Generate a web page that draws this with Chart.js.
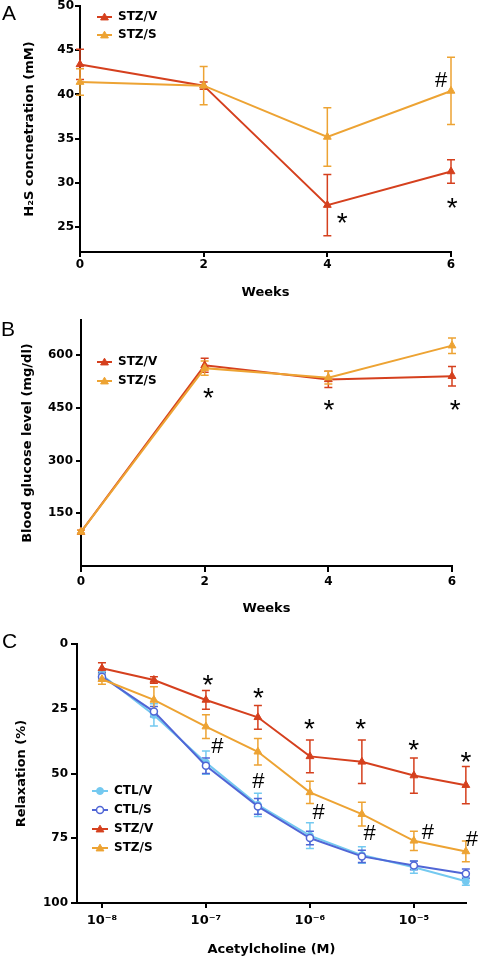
<!DOCTYPE html>
<html><head><meta charset="utf-8">
<script src="https://cdn.jsdelivr.net/npm/chart.js@4.4.0/dist/chart.umd.min.js"></script>
<style>
html,body{margin:0;padding:0;background:#fff;}
body{width:479px;height:958px;position:relative;overflow:hidden;}
canvas{position:absolute;left:0;}
</style></head><body>
<canvas id="cA" width="479" height="310" style="top:0px"></canvas>
<canvas id="cB" width="479" height="320" style="top:310px"></canvas>
<canvas id="cC" width="479" height="328" style="top:630px"></canvas>
<script>
// ---------- DATA ----------
const weeks = [0, 2, 4, 6];
const weekTicks = [0, 2, 4, 6];

// Panel A: H2S concentration (mM)
const h2sTicks = [25, 30, 35, 40, 45, 50];
const h2sStzV = [43.4, 41.0, 27.5, 31.3];
const h2sStzVErr = [1.7, 0.4, 3.45, 1.33];
const h2sStzS = [41.4, 41.0, 35.2, 40.4];
const h2sStzSErr = [1.5, 2.15, 3.3, 3.8];

// Panel B: blood glucose (mg/dl)
const glucTicks = [150, 300, 450, 600];
const glucStzV = [97, 571, 531, 540];
const glucStzVErr = [5, 20, 23, 28];
const glucStzS = [97, 563, 536, 627];
const glucStzSErr = [5, 20, 18, 22];

// Panel C: relaxation (%) vs acetylcholine (M)
const achConc = [1e-8, 3.16e-8, 1e-7, 3.16e-7, 1e-6, 3.16e-6, 1e-5, 3.16e-5];
const achTickValues = [1e-8, 1e-7, 1e-6, 1e-5];
const achTickLabels = ['10\u207B\u2078', '10\u207B\u2077', '10\u207B\u2076', '10\u207B\u2075'];
const relaxTicks = [0, 25, 50, 75, 100];
const ctlV = [12.0, 27.4, 45.8, 62.1, 74.0, 81.5, 86.2, 91.6];
const ctlVErr = [1.5, 4.3, 4.5, 4.5, 5.0, 3.2, 2.3, 1.5];
const ctlS = [12.6, 26.1, 47.0, 62.7, 74.9, 82.0, 85.5, 88.7];
const ctlSErr = [1.5, 2.0, 3.0, 3.0, 2.6, 2.4, 1.7, 1.8];
const stzV = [9.4, 13.9, 21.6, 28.3, 43.4, 45.5, 50.8, 54.5];
const stzVErr = [2.2, 1.3, 3.6, 4.6, 6.3, 8.4, 6.8, 7.2];
const stzS = [13.6, 21.6, 31.9, 41.6, 57.3, 65.7, 76.0, 80.1];
const stzSErr = [1.9, 5.1, 4.6, 5.1, 4.3, 4.6, 3.7, 4.0];

// Significance marks (data coordinates)
const marksA = [{x: 4.24, y: 26.0, t: '*'}, {x: 6.02, y: 27.7, t: '*'}, {x: 5.84, y: 41.7, t: '#'}];
const marksB = [{x: 2.06, y: 492, t: '*'}, {x: 4.01, y: 458, t: '*'}, {x: 6.05, y: 458, t: '*'}];
const starLogC = [-6.98, -6.496, -6.004, -5.512, -5.001, -4.5];
const starYC = [13.9, 18.9, 30.9, 30.9, 39.0, 43.6];
const hashLogC = [-6.891, -6.496, -5.917, -5.425, -4.866, -4.442];
const hashYC = [39.0, 52.8, 64.8, 72.9, 72.5, 75.2];

// ---------- STYLE ----------
const RED = '#d5401e', ORANGE = '#eda333', LBLUE = '#74c9f0', BLUE = '#5066d6';
Chart.defaults.font.family = '"DejaVu Sans", sans-serif';
Chart.defaults.font.size = 12;
Chart.defaults.font.weight = 'bold';
Chart.defaults.color = '#000';

function pts(xs, ys) { return xs.map((x, i) => ({x: x, y: ys[i]})); }

function drawMarker(ctx, ds, x, y) {
  const r = ds.pointRadius;
  ctx.save();
  ctx.lineWidth = ds.pointBorderWidth || 1;
  ctx.strokeStyle = ds.pointBorderColor || ds.borderColor;
  ctx.fillStyle = ds.pointBackgroundColor || ds.borderColor;
  ctx.beginPath();
  if (ds.pointStyle === 'triangle') {
    for (let k = 0; k < 3; k++) {
      const a = -Math.PI / 2 + k * 2 * Math.PI / 3;
      const px = x + Math.cos(a) * r, py = y + Math.sin(a) * r + r * 0.15;
      if (k === 0) ctx.moveTo(px, py); else ctx.lineTo(px, py);
    }
    ctx.closePath();
  } else {
    ctx.arc(x, y, r, 0, Math.PI * 2);
  }
  ctx.fill(); ctx.stroke();
  ctx.restore();
}

function errorBarsPlugin() {
  return {
    id: 'errBars',
    beforeDatasetsDraw(chart) {
      const ctx = chart.ctx, xs = chart.scales.x, ys = chart.scales.y;
      const metas = chart.getSortedVisibleDatasetMetas().slice().reverse();
      ctx.save();
      metas.forEach(meta => {
        const ds = chart.data.datasets[meta.index];
        if (!ds.errors) return;
        ctx.strokeStyle = ds.borderColor;
        ctx.lineWidth = 1.5;
        ds.data.forEach((p, j) => {
          const e = ds.errors[j];
          const x = xs.getPixelForValue(p.x);
          const y1 = ys.getPixelForValue(p.y + e), y2 = ys.getPixelForValue(p.y - e);
          ctx.beginPath();
          ctx.moveTo(x, y1); ctx.lineTo(x, y2);
          ctx.moveTo(x - 4, y1); ctx.lineTo(x + 4, y1);
          ctx.moveTo(x - 4, y2); ctx.lineTo(x + 4, y2);
          ctx.stroke();
        });
      });
      ctx.restore();
    }
  };
}

function marksPlugin(items) {
  return {
    id: 'sigMarks',
    afterDatasetsDraw(chart) {
      const ctx = chart.ctx, xs = chart.scales.x, ys = chart.scales.y;
      ctx.save();
      ctx.fillStyle = '#000';
      ctx.textAlign = 'center';
      ctx.textBaseline = 'alphabetic';
      items.forEach(m => {
        ctx.font = m.t === '*' ? 'normal 28px "Liberation Sans"' : 'normal 22px "Liberation Sans"';
        const mt = ctx.measureText(m.t);
        const x = xs.getPixelForValue(m.x), y = ys.getPixelForValue(m.y);
        ctx.fillText(m.t, x, y + (mt.actualBoundingBoxAscent - mt.actualBoundingBoxDescent) / 2);
      });
      ctx.restore();
    }
  };
}

function legendPlugin(cfg) {
  return {
    id: 'miniLegend',
    afterDraw(chart) {
      const ctx = chart.ctx;
      ctx.save();
      cfg.rows.forEach((di, k) => {
        const ds = chart.data.datasets[di];
        const y = cfg.ys[k];
        ctx.strokeStyle = ds.borderColor; ctx.lineWidth = 2;
        ctx.beginPath(); ctx.moveTo(cfg.x0, y); ctx.lineTo(cfg.x1, y); ctx.stroke();
        drawMarker(ctx, ds, (cfg.x0 + cfg.x1) / 2, y);
        ctx.fillStyle = '#000';
        ctx.font = 'bold 12px "DejaVu Sans"';
        ctx.textAlign = 'left'; ctx.textBaseline = 'middle';
        ctx.fillText(ds.label, cfg.tx, y);
      });
      ctx.restore();
    }
  };
}

function letterPlugin(t, x, y) {
  return {
    id: 'panelLetter',
    afterDraw(chart) {
      const ctx = chart.ctx;
      ctx.save();
      ctx.fillStyle = '#000';
      ctx.font = 'normal 21px "Liberation Sans"';
      ctx.textAlign = 'left'; ctx.textBaseline = 'alphabetic';
      ctx.fillText(t, x, y);
      ctx.restore();
    }
  };
}

function axis(o) {
  return {
    type: o.type || 'linear', position: o.pos, min: o.min, max: o.max, reverse: !!o.reverse,
    border: {display: true, color: '#000', width: 2},
    grid: {display: true, drawOnChartArea: false, drawTicks: true, tickLength: o.tl, color: '#000', lineWidth: 2},
    ticks: {color: '#000', padding: o.pad, autoSkip: false, maxRotation: 0, minRotation: 0,
      font: {size: o.fs || 12, weight: 'bold'},
      callback: function (v) {
        if (o.labels) { const i = o.ticks.findIndex(t => Math.abs(Math.log10(t) - Math.log10(v)) < 1e-6); return i >= 0 ? o.labels[i] : ''; }
        return String(v);
      }},
    title: {display: true, text: o.title, color: '#000', font: {size: 13, weight: 'bold'}, padding: o.tpad},
    afterBuildTicks: s => { s.ticks = o.ticks.map(v => ({value: v})); },
    afterFit: s => {
      if (o.pos === 'left') s.width = o.size; else s.height = o.size;
      s.paddingLeft = 0; s.paddingRight = 0; s.paddingTop = 0; s.paddingBottom = 0;
    }
  };
}

function ds(label, xs, ys, errs, color, style, order, extra) {
  return Object.assign({
    label: label, data: pts(xs, ys), errors: errs,
    borderColor: color, backgroundColor: color, borderWidth: 2,
    pointStyle: style, pointRadius: 4.5, pointBorderWidth: 1,
    pointBackgroundColor: color, pointBorderColor: color,
    clip: false, order: order, tension: 0
  }, extra || {});
}

function make(id, datasets, xAx, yAx, pad, plugins) {
  return new Chart(document.getElementById(id), {
    type: 'line',
    data: {datasets: datasets},
    options: {
      responsive: false, animation: false, devicePixelRatio: 1, events: [],
      layout: {padding: pad},
      plugins: {legend: {display: false}, tooltip: {enabled: false}},
      scales: {x: xAx, y: yAx}
    },
    plugins: plugins
  });
}

// ---------- PANEL A ----------
make('cA',
  [ds('STZ/V', weeks, h2sStzV, h2sStzVErr, RED, 'triangle', 1),
   ds('STZ/S', weeks, h2sStzS, h2sStzSErr, ORANGE, 'triangle', 0)],
  axis({pos: 'bottom', min: 0, max: 6, ticks: weekTicks, tl: 5, pad: 1, title: 'Weeks', tpad: {top: 0, bottom: 10}, size: 58}),
  axis({pos: 'left', min: 22.2, max: 50, ticks: h2sTicks, tl: 5, pad: 1, title: 'H\u2082S concnetration (mM)', tpad: {top: 22, bottom: 0}, size: 80}),
  {left: 0, right: 28, top: 6, bottom: 0},
  [errorBarsPlugin(), marksPlugin(marksA), legendPlugin({rows: [0, 1], ys: [17, 35], x0: 97, x1: 112, tx: 118}), letterPlugin('A', 2, 20)]
);

// ---------- PANEL B ----------
make('cB',
  [ds('STZ/V', weeks, glucStzV, glucStzVErr, RED, 'triangle', 1),
   ds('STZ/S', weeks, glucStzS, glucStzSErr, ORANGE, 'triangle', 0)],
  axis({pos: 'bottom', min: 0, max: 6, ticks: weekTicks, tl: 6, pad: 3, title: 'Weeks', tpad: {top: 0, bottom: 14}, size: 64}),
  axis({pos: 'left', min: 0, max: 700, ticks: glucTicks, tl: 5, pad: 3, title: 'Blood glucose level (mg/dl)', tpad: {top: 20, bottom: 0}, size: 81}),
  {left: 0, right: 27, top: 10, bottom: 0},
  [errorBarsPlugin(), marksPlugin(marksB), legendPlugin({rows: [0, 1], ys: [52, 71], x0: 97, x1: 112, tx: 118}), letterPlugin('B', 1, 26)]
);

// ---------- PANEL C ----------
const marksC = starLogC.map((l, i) => ({x: Math.pow(10, l), y: starYC[i], t: '*'}))
  .concat(hashLogC.map((l, i) => ({x: Math.pow(10, l), y: hashYC[i], t: '#'})));
make('cC',
  [ds('CTL/V', achConc, ctlV, ctlVErr, LBLUE, 'circle', 3, {pointRadius: 3.5}),
   ds('CTL/S', achConc, ctlS, ctlSErr, BLUE, 'circle', 2, {pointRadius: 3.5, pointBackgroundColor: '#fff', pointBorderWidth: 1.5}),
   ds('STZ/V', achConc, stzV, stzVErr, RED, 'triangle', 1),
   ds('STZ/S', achConc, stzS, stzSErr, ORANGE, 'triangle', 0)],
  axis({type: 'logarithmic', pos: 'bottom', min: Math.pow(10, -8.24), max: 3.17e-5, ticks: achTickValues, labels: achTickLabels, fs: 13, tl: 5, pad: 5, title: 'Acetylcholine (M)', tpad: {top: 0, bottom: 1}, size: 55}),
  axis({pos: 'left', min: 0, max: 100, reverse: true, ticks: relaxTicks, tl: 6, pad: 3, title: 'Relaxation (%)', tpad: {top: 14, bottom: 0}, size: 77}),
  {left: 0, right: 13, top: 14, bottom: 0},
  [errorBarsPlugin(), marksPlugin(marksC), legendPlugin({rows: [0, 1, 2, 3], ys: [161, 180, 199, 218], x0: 92, x1: 108, tx: 114}), letterPlugin('C', 2, 18)]
);
</script>
</body></html>
